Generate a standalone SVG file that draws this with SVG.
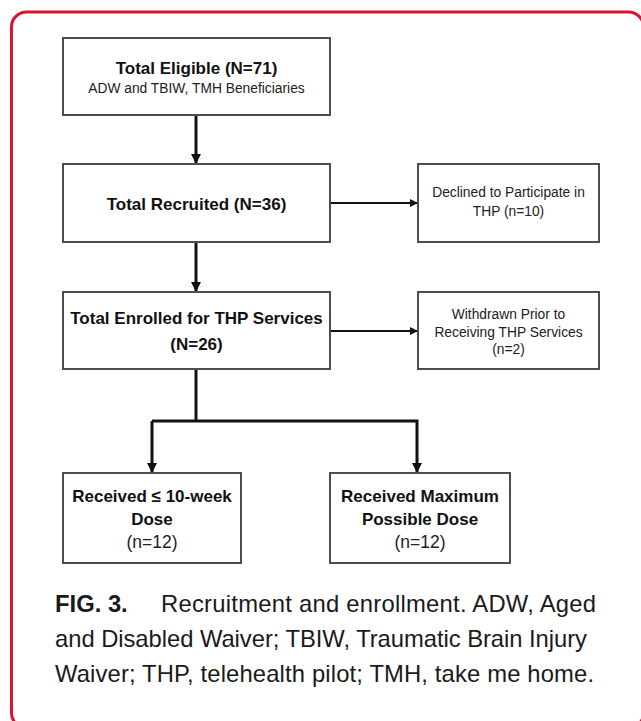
<svg xmlns="http://www.w3.org/2000/svg" width="641" height="721" viewBox="0 0 641 721">
<style>
.box{fill:#fff;stroke:#4d4d4d;stroke-width:2}
.b{font-family:"Liberation Sans",Arial,sans-serif;font-weight:bold;font-size:17px;fill:#111;text-anchor:middle}
.r{font-family:"Liberation Sans",Arial,sans-serif;font-size:13.8px;fill:#222;text-anchor:middle}
.rn{font-family:"Liberation Sans",Arial,sans-serif;font-size:17.5px;fill:#222;text-anchor:middle}
.main{fill:none;stroke:#111;stroke-width:3}
.side{fill:none;stroke:#111;stroke-width:2}
.cap{font-family:"Liberation Sans",Arial,sans-serif;font-size:23.8px;fill:#1a1a1a}
</style>
<defs>
<marker id="ah" markerUnits="userSpaceOnUse" markerWidth="12" markerHeight="12" refX="10" refY="5" orient="auto"><path d="M0,0 L10,5 L0,10 z" fill="#111"/></marker>
<marker id="ahs" markerUnits="userSpaceOnUse" markerWidth="10" markerHeight="10" refX="8" refY="4" orient="auto"><path d="M0,0 L8,4 L0,8 z" fill="#111"/></marker>
</defs>
<rect x="0" y="0" width="641" height="721" fill="#fff"/>
<rect id="frame" x="11.5" y="12" width="632" height="716" rx="15" fill="none" stroke="#d9142f" stroke-width="3"/>
<g id="connectors">
<line class="main" x1="196" y1="115" x2="196" y2="164" marker-end="url(#ah)"/>
<line class="main" x1="196" y1="242" x2="196" y2="292" marker-end="url(#ah)"/>
<line class="side" x1="330" y1="203" x2="418" y2="203" marker-end="url(#ahs)"/>
<line class="side" x1="330" y1="331" x2="418" y2="331" marker-end="url(#ahs)"/>
<polyline class="main" points="196,369 196,421"/>
<polyline class="main" points="152,421 417,421 417,473" marker-end="url(#ah)"/>
<line class="main" x1="152" y1="421" x2="152" y2="473" marker-end="url(#ah)"/>
</g>
<g id="eligible">
<rect class="box" x="63" y="38" width="267" height="77"/>
<text class="b" x="196.5" y="74">Total Eligible (N=71)</text>
<text class="r" x="196.5" y="92.5" font-size="13.2">ADW and TBIW, TMH Beneficiaries</text>
</g>
<g id="recruited">
<rect class="box" x="63" y="164" width="267" height="78"/>
<text class="b" x="196.5" y="210">Total Recruited (N=36)</text>
</g>
<g id="declined">
<rect class="box" x="418" y="164" width="181" height="78"/>
<text class="r" x="508.5" y="197">Declined to Participate in</text>
<text class="r" x="508.5" y="216">THP (n=10)</text>
</g>
<g id="enrolled">
<rect class="box" x="63" y="292" width="267" height="77"/>
<text class="b" x="196.5" y="324" font-size="16.4">Total Enrolled for THP Services</text>
<text class="b" x="196.5" y="350">(N=26)</text>
</g>
<g id="withdrawn">
<rect class="box" x="418" y="292" width="181" height="77"/>
<text class="r" x="508.5" y="319">Withdrawn Prior to</text>
<text class="r" x="508.5" y="336.5">Receiving THP Services</text>
<text class="r" x="508.5" y="354">(n=2)</text>
</g>
<g id="partial">
<rect class="box" x="63" y="473" width="178" height="90"/>
<text class="b" x="152" y="502">Received ≤ 10-week</text>
<text class="b" x="152" y="525">Dose</text>
<text class="rn" x="152" y="548">(n=12)</text>
</g>
<g id="maximum">
<rect class="box" x="330" y="473" width="180" height="90"/>
<text class="b" x="420" y="502">Received Maximum</text>
<text class="b" x="420" y="525">Possible Dose</text>
<text class="rn" x="420" y="548">(n=12)</text>
</g>
<g id="caption">
<text class="cap" x="55" y="612" font-weight="bold">FIG. 3.</text>
<text class="cap" x="161" y="612" textLength="435">Recruitment and enrollment. ADW, Aged</text>
<text class="cap" x="55" y="647" textLength="532">and Disabled Waiver; TBIW, Traumatic Brain Injury</text>
<text class="cap" x="55" y="682" textLength="539">Waiver; THP, telehealth pilot; TMH, take me home.</text>
</g>
</svg>
